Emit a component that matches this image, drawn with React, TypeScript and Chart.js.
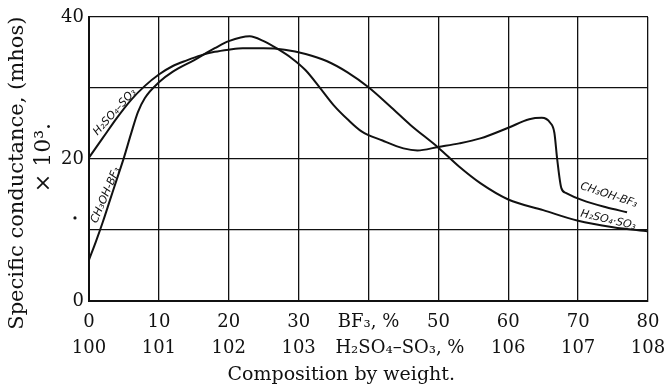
import React, { useEffect, useRef } from 'react';
import { Chart, registerables } from 'chart.js';

Chart.register(...registerables);

// H2SO4–SO3 curve (x = BF3 % scale position, y = conductance ×10³)
const acidX = [0, 2, 4, 6, 8, 10, 12, 14, 16, 18, 20, 22, 25, 28, 31, 34, 37, 40, 43, 46, 50, 53, 56, 60, 65, 70, 75, 80];
const acidY = [20.2, 23, 25.8, 28.3, 30.3, 31.9, 33.1, 33.9, 34.6, 35.1, 35.4, 35.6, 35.6, 35.4, 34.8, 33.8, 32.2, 30.1, 27.5, 24.8, 21.6, 18.9, 16.6, 14.3, 12.8, 11.3, 10.4, 9.8];

// CH3OH–BF3 curve
const bf3X = [0, 1, 2, 3, 4, 5, 6, 7, 8, 10, 12, 15, 18, 20, 23, 25, 27, 29, 31, 33, 35, 37, 39, 42, 45, 47, 50, 53, 56, 60, 63, 64.8, 66, 66.6, 67, 67.6, 68.3, 70.6, 74, 77];
const bf3Y = [5.8, 8.4, 11.2, 14.2, 17.2, 20.2, 23.5, 26.6, 28.6, 30.8, 32.3, 33.9, 35.6, 36.6, 37.3, 36.6, 35.5, 34.2, 32.5, 30.1, 27.6, 25.6, 23.9, 22.6, 21.5, 21.2, 21.7, 22.2, 22.9, 24.4, 25.6, 25.8, 25.1, 23.7, 20, 15.9, 15.2, 14.2, 13.2, 12.5];

const yTickValues = [0, 10, 20, 30, 40];
const yTickLabels = ['0', '', '20', '', '40'];
const bf3TickValues = [0, 10, 20, 30, 40, 50, 60, 70, 80];
const bf3TickLabels = ['0', '10', '20', '30', 'BF₃, %', '50', '60', '70', '80'];
const acidTickValues = [100, 101, 102, 103, 104.45, 106, 107, 108];
const acidTickLabels = ['100', '101', '102', '103', 'H₂SO₄–SO₃, %', '106', '107', '108'];

const yTitle = 'Specific conductance, (mhos)';
const yTitle2 = '× 10³.';
const xTitle = 'Composition by weight.';

const curveLabels = [
  { text: 'H₂SO₄–SO₃', x: 3.7, y: 26.6, angle: -48 },
  { text: 'CH₃OH-BF₃', x: 2.4, y: 14.9, angle: -67 },
  { text: 'CH₃OH-BF₃', x: 74.4, y: 14.9, angle: 18 },
  { text: 'H₂SO₄·SO₃', x: 74.3, y: 11.4, angle: 13 },
];

const SERIF = '"DejaVu Serif", serif';
const INK = '#111';

const textPlugin = {
  id: 'extraText',
  afterDraw(chart: any) {
    const ctx = chart.ctx;
    const xs = chart.scales.x;
    const ys = chart.scales.y;
    const area = chart.chartArea;
    ctx.save();
    ctx.fillStyle = INK;
    ctx.textAlign = 'center';
    ctx.textBaseline = 'middle';
    // y axis title, two lines
    ctx.font = '21px ' + SERIF;
    ctx.save();
    ctx.translate(18, ys.getPixelForValue(18.0));
    ctx.rotate(-Math.PI / 2);
    ctx.fillText(yTitle, 0, 0);
    ctx.restore();
    ctx.font = '22px ' + SERIF;
    ctx.save();
    ctx.translate(44, ys.getPixelForValue(20.2));
    ctx.rotate(-Math.PI / 2);
    ctx.fillText(yTitle2, 0, 0);
    ctx.restore();
    // x axis title
    ctx.font = '19px ' + SERIF;
    ctx.fillText(xTitle, xs.getPixelForValue(36.1), 375);
    // small dot
    ctx.beginPath();
    ctx.arc(area.left - 14, ys.getPixelForValue(11.7), 1.6, 0, Math.PI * 2);
    ctx.fill();
    // curve labels
    ctx.font = 'italic 11px "DejaVu Sans", sans-serif';
    for (const l of curveLabels) {
      ctx.save();
      ctx.translate(xs.getPixelForValue(l.x), ys.getPixelForValue(l.y));
      ctx.rotate((l.angle * Math.PI) / 180);
      ctx.fillText(l.text, 0, 0);
      ctx.restore();
    }
    ctx.restore();
  },
};

export default function App() {
  const ref = useRef<HTMLCanvasElement | null>(null);
  useEffect(() => {
    if (!ref.current) return;
    const tickFont = { family: SERIF, size: 18 };
    const chart = new Chart(ref.current, {
      type: 'line',
      data: {
        datasets: [
          {
            label: 'H₂SO₄–SO₃',
            data: acidX.map((x, i) => ({ x, y: acidY[i] })),
            borderColor: INK,
            borderWidth: 2,
            pointRadius: 0,
            cubicInterpolationMode: 'monotone',
            fill: false,
          },
          {
            label: 'CH₃OH–BF₃',
            data: bf3X.map((x, i) => ({ x, y: bf3Y[i] })),
            borderColor: INK,
            borderWidth: 2,
            pointRadius: 0,
            cubicInterpolationMode: 'monotone',
            fill: false,
          },
        ],
      },
      options: {
        responsive: false,
        animation: false,
        events: [],
        layout: { padding: { top: 17, right: 18, left: 0, bottom: 0 } },
        plugins: { legend: { display: false }, tooltip: { enabled: false } },
        scales: {
          x: {
            type: 'linear',
            position: 'bottom',
            weight: 0,
            min: 0,
            max: 80,
            afterBuildTicks: (axis: any) => {
              axis.ticks = bf3TickValues.map((v) => ({ value: v }));
            },
            afterFit: (axis: any) => {
              axis.height = 30;
              axis.paddingLeft = 0;
              axis.paddingRight = 0;
            },
            ticks: {
              autoSkip: false,
              maxRotation: 0,
              padding: 11,
              color: INK,
              font: tickFont,
              callback: (v: any) => {
                const i = bf3TickValues.indexOf(Number(v));
                return i >= 0 ? bf3TickLabels[i] : '';
              },
            },
            grid: { color: INK, lineWidth: 1.3, drawTicks: false },
            border: { color: INK, width: 2 },
          },
          x2: {
            type: 'linear',
            position: 'bottom',
            weight: 1,
            min: 100,
            max: 108,
            afterBuildTicks: (axis: any) => {
              axis.ticks = acidTickValues.map((v) => ({ value: v }));
            },
            afterFit: (axis: any) => {
              axis.height = 54;
              axis.paddingLeft = 0;
              axis.paddingRight = 0;
            },
            ticks: {
              autoSkip: false,
              maxRotation: 0,
              padding: 7,
              color: INK,
              font: tickFont,
              callback: (v: any) => {
                const i = acidTickValues.indexOf(Number(v));
                return i >= 0 ? acidTickLabels[i] : '';
              },
            },
            grid: { display: false, drawTicks: false },
            border: { display: false },
          },
          y: {
            type: 'linear',
            min: 0,
            max: 40,
            afterBuildTicks: (axis: any) => {
              axis.ticks = yTickValues.map((v) => ({ value: v }));
            },
            afterFit: (axis: any) => {
              axis.width = 89;
              axis.paddingTop = 0;
              axis.paddingBottom = 0;
            },
            ticks: {
              padding: 5,
              color: INK,
              font: tickFont,
              callback: (v: any) => {
                const i = yTickValues.indexOf(Number(v));
                return i >= 0 ? yTickLabels[i] : '';
              },
            },
            grid: { color: INK, lineWidth: 1.3, drawTicks: false },
            border: { color: INK, width: 2 },
          },
        },
      },
      plugins: [textPlugin],
    } as any);
    return () => chart.destroy();
  }, []);
  return (
    <div style={{ position: 'fixed', left: 0, top: 0, width: 666, height: 385, background: '#fff' }}>
      <canvas ref={ref} width={666} height={385} style={{ display: 'block', width: 666, height: 385 }} />
    </div>
  );
}
